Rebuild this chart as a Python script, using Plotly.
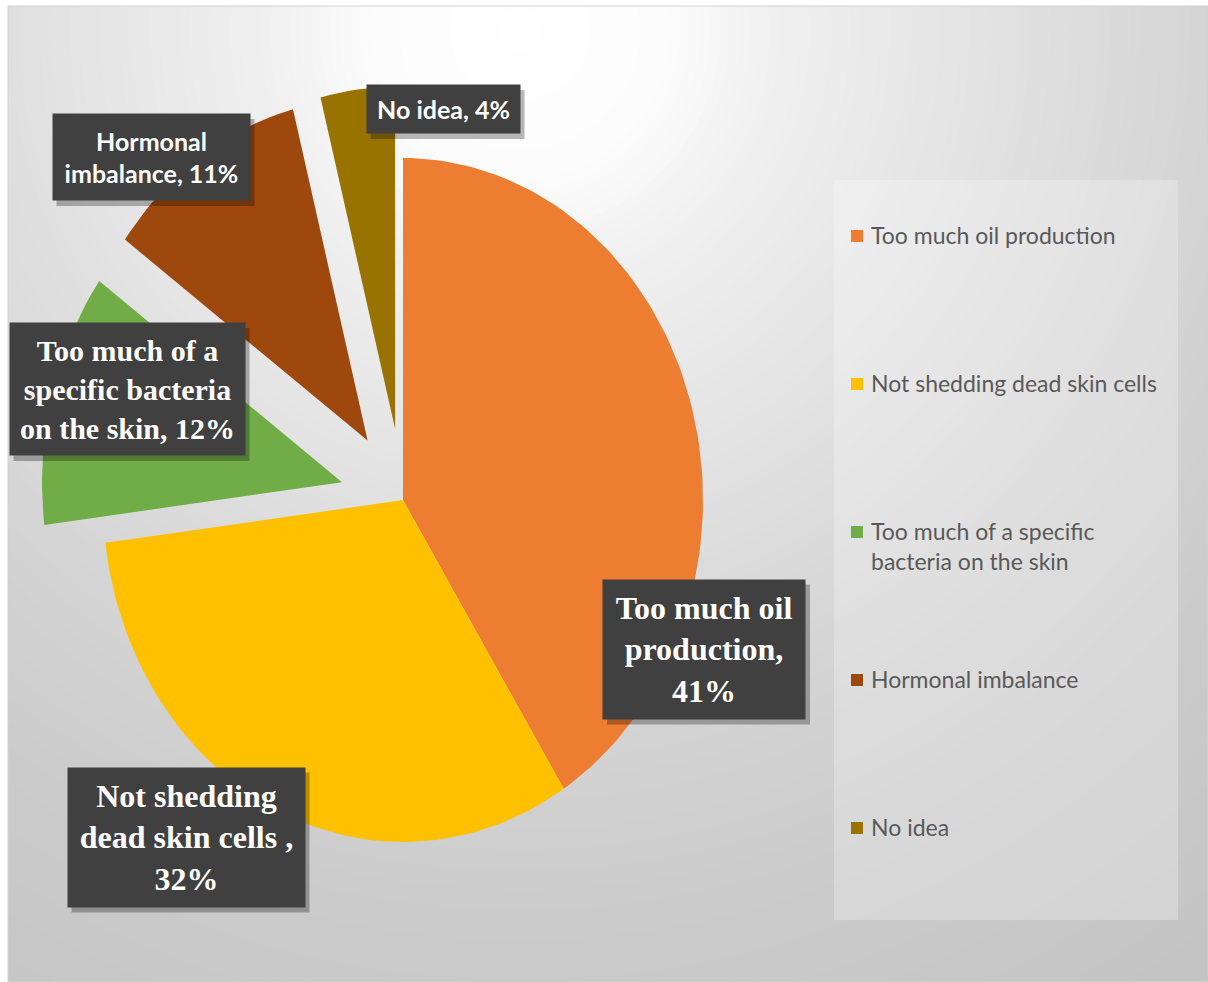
import numpy as np
import plotly.graph_objects as go

# ---- data -------------------------------------------------------------
categories = [
    "Too much oil production",
    "Not shedding dead skin cells",
    "Too much of a specific bacteria on the skin",
    "Hormonal imbalance",
    "No idea",
]
shares = [41, 32, 12, 11, 4]

# label / legend wording (line breaks only)
label_templates = [
    "Too much oil<br>production,<br>{}%",
    "Not shedding<br>dead skin cells ,<br>{}%",
    "Too much of a<br>specific bacteria<br>on the skin, {}%",
    "Hormonal<br>imbalance, {}%",
    "No idea, {}%",
]
legend_names = [
    "Too much oil production",
    "Not shedding dead skin cells",
    "Too much of a specific<br>bacteria on the skin",
    "Hormonal imbalance",
    "No idea",
]

# ---- styling ----------------------------------------------------------
colors = ["#ED7D31", "#FFC000", "#70AD47", "#9E480E", "#997300"]
explode = [0.0, 0.0, 0.21, 0.21, 0.21]

W, H = 1208, 982
X0, Y0 = 8, 6                 # chart area origin (pixels)
CX, CY = 403, 500             # pie centre
RX, RY = 300, 342             # pie radii (stretched vertically)

SERIF = "Liberation Serif, Times New Roman, serif"
SANS = "Lato, Liberation Sans, sans-serif"

# label boxes: (centre x, centre y, width, height, font family, font size)
label_boxes = [
    (704, 649, 202, 139, SERIF, 32),
    (186, 837, 237, 139, SERIF, 32),
    (127, 389, 235, 132, SERIF, 30),
    (151, 157, 197, 86, SANS, 25),
    (443, 109, 153, 48, SANS, 25),
]

fig = go.Figure()

# ---- pie slices (angles measured clockwise from 12 o'clock) -----------
total = float(sum(shares))
start = 0.0
for name, val, col, pull in zip(categories, shares, colors, explode):
    a0 = start / total * 2 * np.pi
    a1 = (start + val) / total * 2 * np.pi
    mid = (a0 + a1) / 2
    ox = CX + pull * RX * np.sin(mid)
    oy = CY - pull * RY * np.cos(mid)
    n = max(8, int(240 * val / total))
    th = np.linspace(a0, a1, n)
    xs = np.concatenate([[ox], ox + RX * np.sin(th), [ox]])
    ys = np.concatenate([[oy], oy - RY * np.cos(th), [oy]])
    fig.add_trace(go.Scatter(
        x=xs, y=ys, mode="lines", fill="toself", fillcolor=col,
        line=dict(width=0, color=col), name=name, showlegend=False,
        hoverinfo="text", text=f"{name}: {val}%",
    ))
    start += val

shapes = []

# ---- radial grey background --------------------------------------------
gx, gy = 520, 30
d_stops = [0, 150, 260, 480, 700, 900, 1300]
v_stops = [255, 252, 240, 226, 212, 203, 192]
for r in np.arange(1320, 0, -10):
    v = int(round(np.interp(r, d_stops, v_stops)))
    c = f"rgb({v},{v},{v})"
    shapes.append(dict(type="circle", xref="x", yref="y", layer="below",
                       x0=gx - r, x1=gx + r, y0=gy - r, y1=gy + r,
                       fillcolor=c, line=dict(width=0)))

# chart frame
shapes.append(dict(type="rect", xref="paper", yref="paper", x0=0, x1=1,
                   y0=0, y1=1, line=dict(color="#d0d0d0", width=1),
                   layer="above"))

# ---- data labels --------------------------------------------------------
annotations = []
for tpl, val, (bx, by, bw, bh, fam, fs) in zip(label_templates, shares, label_boxes):
    shapes.append(dict(type="rect", xref="x", yref="y", layer="above",
                       x0=bx - bw / 2 + 4, x1=bx + bw / 2 + 5,
                       y0=by - bh / 2 + 5, y1=by + bh / 2 + 6,
                       fillcolor="rgba(0,0,0,0.28)", line=dict(width=0)))
    annotations.append(dict(
        x=bx, y=by, xref="x", yref="y", showarrow=False,
        text="<b>" + tpl.format(val) + "</b>",
        font=dict(family=fam, size=fs, color="white"),
        bgcolor="#404040", width=bw, height=bh, borderpad=0,
        align="center", valign="middle",
    ))

# ---- legend -------------------------------------------------------------
shapes.append(dict(type="rect", xref="x", yref="y", layer="above",
                   x0=834, x1=1178, y0=180, y1=920,
                   fillcolor="rgba(255,255,255,0.25)", line=dict(width=0)))
legend_top, legend_step = 236, 148
for i, (nm, col) in enumerate(zip(legend_names, colors)):
    yy = legend_top + i * legend_step
    shapes.append(dict(type="rect", xref="x", yref="y", layer="above",
                       x0=851, x1=863, y0=yy - 6, y1=yy + 6,
                       fillcolor=col, line=dict(width=0)))
    annotations.append(dict(
        x=869, y=yy - 17, xref="x", yref="y", xanchor="left", yanchor="top",
        showarrow=False, text=nm, align="left",
        font=dict(family=SANS, size=23, color="#595959"),
    ))

fig.update_layout(
    width=W, height=H,
    margin=dict(l=X0, r=0, t=Y0, b=0, pad=0),
    paper_bgcolor="white", plot_bgcolor="white",
    xaxis=dict(range=[X0, W], visible=False, fixedrange=True),
    yaxis=dict(range=[H, Y0], visible=False, fixedrange=True),
    shapes=shapes, annotations=annotations, showlegend=False,
)

fig.write_html("out.html")
